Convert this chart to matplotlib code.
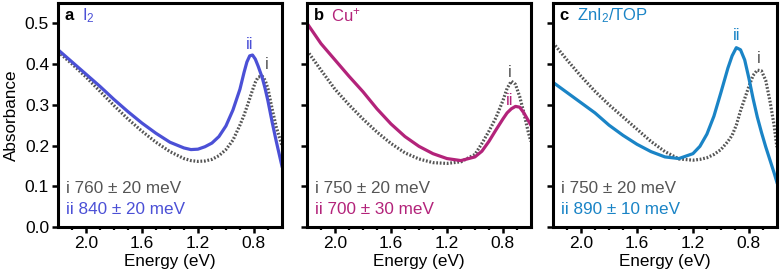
"""Absorbance spectra of three treated samples against the untreated reference."""

import matplotlib
matplotlib.use("Agg")
from matplotlib import pyplot as plt


# Energies (eV) at which values were read, one grid per panel.
ENERGY_A = [2.2, 2.1, 2.0, 1.9, 1.8, 1.7, 1.6, 1.5, 1.4, 1.3, 1.25, 1.2, 1.15,
            1.1, 1.05, 1.0, 0.95, 0.9, 0.87, 0.85, 0.83, 0.81, 0.79, 0.77,
            0.74, 0.72, 0.7, 0.67, 0.64, 0.6]
I2_ABS = [0.435, 0.405, 0.375, 0.345, 0.313, 0.283, 0.255, 0.23, 0.208, 0.194,
          0.19, 0.191, 0.197, 0.206, 0.222, 0.248, 0.287, 0.338, 0.38, 0.405,
          0.42, 0.422, 0.412, 0.395, 0.366, 0.34, 0.31, 0.258, 0.21, 0.15]
REF_A_ABS = [0.43, 0.40, 0.368, 0.333, 0.298, 0.265, 0.235, 0.208, 0.185, 0.168,
             0.163, 0.161, 0.162, 0.166, 0.175, 0.19, 0.213, 0.25, 0.275, 0.295,
             0.315, 0.336, 0.355, 0.368, 0.37, 0.36, 0.34, 0.29, 0.245, 0.2]

ENERGY_B = [2.2, 2.1, 2.0, 1.9, 1.8, 1.7, 1.6, 1.5, 1.4, 1.3, 1.2, 1.1, 1.0,
            0.95, 0.9, 0.85, 0.8, 0.77, 0.74, 0.71, 0.68, 0.65, 0.62, 0.6]
CU_ABS = [0.50, 0.45, 0.41, 0.37, 0.332, 0.29, 0.253, 0.222, 0.198, 0.18, 0.168,
          0.163, 0.172, 0.186, 0.21, 0.238, 0.265, 0.28, 0.29, 0.296, 0.294,
          0.28, 0.262, 0.25]
REF_B_ABS = [0.433, 0.385, 0.338, 0.30, 0.265, 0.233, 0.205, 0.182, 0.167, 0.158,
             0.156, 0.16, 0.178, 0.205, 0.235, 0.268, 0.31, 0.34, 0.358, 0.35,
             0.32, 0.28, 0.235, 0.21]

ENERGY_C = [2.2, 2.1, 2.0, 1.9, 1.8, 1.7, 1.6, 1.5, 1.4, 1.3, 1.2, 1.15, 1.1,
            1.05, 1.0, 0.95, 0.92, 0.89, 0.86, 0.83, 0.8, 0.77, 0.74, 0.71,
            0.68, 0.65, 0.62, 0.6]
ZNI2_ABS = [0.355, 0.33, 0.305, 0.28, 0.25, 0.225, 0.203, 0.185, 0.172, 0.168,
            0.18, 0.198, 0.228, 0.272, 0.33, 0.39, 0.42, 0.44, 0.435, 0.41,
            0.365, 0.315, 0.27, 0.232, 0.197, 0.165, 0.133, 0.11]
REF_C_ABS = [0.452, 0.41, 0.37, 0.333, 0.30, 0.27, 0.24, 0.21, 0.185, 0.167,
             0.164, 0.166, 0.17, 0.178, 0.19, 0.21, 0.225, 0.25, 0.285, 0.315,
             0.345, 0.372, 0.385, 0.383, 0.36, 0.31, 0.25, 0.196]

PANEL_LETTERS = ["a", "b", "c"]
PANEL_NAMES = ["I$_2$", "Cu$^{+}$", "ZnI$_2$/TOP"]
REF_PEAK_TEXT = ["i 760 ± 20 meV", "i 750 ± 20 meV", "i 750 ± 20 meV"]
NEW_PEAK_TEXT = ["ii 840 ± 20 meV", "ii 700 ± 30 meV", "ii 890 ± 10 meV"]

X_TICKS = [2.0, 1.6, 1.2, 0.8]
X_MINOR = [2.1, 1.9, 1.8, 1.7, 1.5, 1.4, 1.3, 1.1, 1.0, 0.9, 0.7]
Y_TICKS = [0.0, 0.1, 0.2, 0.3, 0.4, 0.5]

COLORS = ["#4b50d6", "#b3237a", "#1a84c6"]
GREY = "#555555"

# Where the "i"/"ii" tags sit (energy, absorbance) in each panel.
TAG_I = [(0.707, 0.40), (0.75, 0.379), (0.729, 0.413)]
TAG_II = [(0.83, 0.447), (0.75, 0.31), (0.886, 0.471)]

# Axes boxes in figure fractions.
AX_LEFT = [0.0744, 0.3936, 0.709]
AX_BOTTOM = 0.1715
AX_W = 0.287
AX_H = 0.818


def style_axis(ax, show_ylabels):
    ax.set_xlim(2.2, 0.6)
    ax.set_ylim(0, 0.55)
    ax.set_xticks(X_TICKS)
    ax.set_xticks(X_MINOR, minor=True)
    ax.set_xticklabels([f"{t:.1f}" for t in X_TICKS])
    ax.set_yticks(Y_TICKS)
    if show_ylabels:
        ax.set_yticklabels([f"{t:.1f}" for t in Y_TICKS])
    else:
        ax.set_yticklabels([])
    for s in ax.spines.values():
        s.set_linewidth(2.2)
    ax.tick_params(which="major", direction="out", length=4.5, width=1.8,
                   labelsize=12.5, pad=2)
    ax.tick_params(which="minor", direction="out", length=2.5, width=1.6)
    ax.tick_params(axis="y", which="minor", left=False)
    ax.set_xlabel("Energy (eV)", fontsize=12.3, labelpad=2)


def _main():
    plt.rcParams["font.family"] = ["Liberation Sans", "DejaVu Sans"]
    plt.rcParams["mathtext.fontset"] = "custom"
    plt.rcParams["mathtext.rm"] = "Liberation Sans"
    plt.rcParams["mathtext.it"] = "Liberation Sans:italic"
    plt.rcParams["mathtext.bf"] = "Liberation Sans:bold"

    fig = plt.figure(figsize=(7.8, 2.74), dpi=100)

    energies = [ENERGY_A, ENERGY_B, ENERGY_C]
    samples = [I2_ABS, CU_ABS, ZNI2_ABS]
    refs = [REF_A_ABS, REF_B_ABS, REF_C_ABS]

    for i in range(3):
        ax = fig.add_axes([AX_LEFT[i], AX_BOTTOM, AX_W, AX_H])
        col = COLORS[i]
        ax.plot(energies[i], refs[i], color=GREY, lw=2.3,
                linestyle=(0, (0.55, 0.55)), dash_capstyle="butt")
        ax.plot(energies[i], samples[i], color=col, lw=2.3,
                solid_joinstyle="round")
        style_axis(ax, i == 0)

        ax.text(0.03, 0.945, PANEL_LETTERS[i], transform=ax.transAxes,
                fontsize=12, fontweight="bold", va="center", ha="left")
        ax.text(0.105, 0.945, PANEL_NAMES[i], transform=ax.transAxes,
                fontsize=12, color=col, va="center", ha="left")
        ax.text(0.035, 0.174, REF_PEAK_TEXT[i], transform=ax.transAxes,
                fontsize=12.3, color=GREY, va="center", ha="left")
        ax.text(0.035, 0.076, NEW_PEAK_TEXT[i], transform=ax.transAxes,
                fontsize=12.3, color=col, va="center", ha="left")
        ax.text(TAG_I[i][0], TAG_I[i][1], "i", fontsize=12, color=GREY,
                va="center", ha="center")
        ax.text(TAG_II[i][0], TAG_II[i][1], "ii", fontsize=12, color=col,
                va="center", ha="center")

        if i == 0:
            ax.set_ylabel("Absorbance", fontsize=12.3, labelpad=4)

    fig.savefig("out.png", dpi=100)


if __name__ == "__main__":
    _main()
